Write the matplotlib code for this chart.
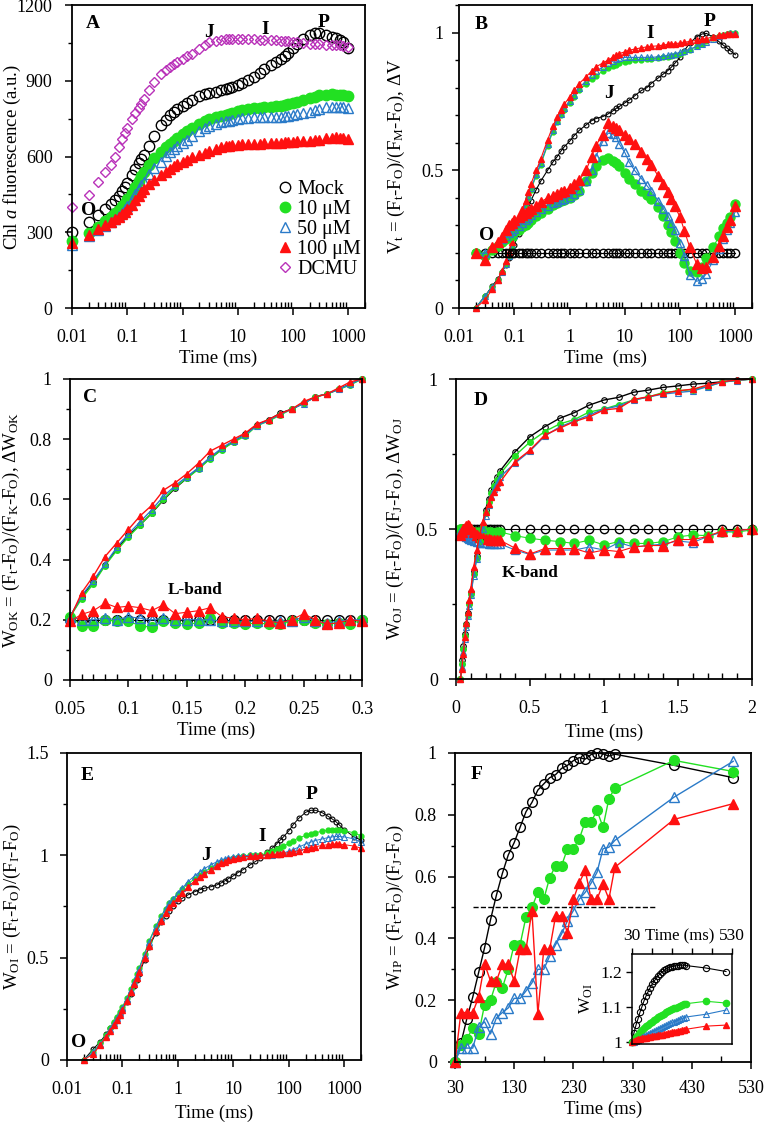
import matplotlib
matplotlib.use("Agg")
import matplotlib.pyplot as plt
from matplotlib.ticker import MultipleLocator, FormatStrFormatter, LogLocator, NullFormatter, FixedLocator

plt.rcParams['font.family'] = ['Liberation Serif', 'DejaVu Serif']
plt.rcParams['mathtext.fontset'] = 'custom'
plt.rcParams['mathtext.rm'] = 'Liberation Serif'
plt.rcParams['mathtext.it'] = 'Liberation Serif:italic'
plt.rcParams['mathtext.bf'] = 'Liberation Serif:bold'
plt.rcParams['axes.linewidth'] = 1.3

# Colors
black = 'black'
green = '#22e022'
blue = '#2a7ac8'
red = '#ff1010'
magenta = '#b932b9'

labels = ['Mock', '10 μM', '50 μM', '100 μM', 'DCMU']

# ---------------- data: OJIP time grid (ms) ----------------
time_log = [0.02, 0.03, 0.04, 0.05, 0.06, 0.07, 0.08, 0.09, 0.1, 0.12,
            0.14, 0.16, 0.18, 0.2, 0.25, 0.3, 0.4, 0.5, 0.6, 0.7,
            0.8, 1, 1.2, 1.5, 2, 2.5, 3, 4, 5, 6,
            7, 8, 10, 12, 15, 20, 25, 30, 40, 50,
            60, 70, 80, 100, 120, 150, 200, 250, 300, 400,
            500, 600, 700, 800, 1000]
time_a = [0.01] + time_log
time_e = time_log + [1500, 2000]

# A: raw Chl a fluorescence
mock_a = [300, 341, 368, 392, 412, 428, 445, 462, 478, 495,
          525, 552, 573, 590, 605, 640, 680, 723, 745, 763,
          776, 787, 800, 812, 825, 840, 848, 852, 856, 862,
          867, 872, 876, 883, 892, 903, 916, 932, 946, 962,
          975, 988, 1000, 1012, 1028, 1045, 1066, 1082, 1088, 1088,
          1081, 1075, 1068, 1061, 1052, 1030]
green_a = [265, 298, 321, 343, 360, 375, 390, 403, 416, 430,
           455, 480, 503, 522, 538, 568, 595, 618, 637, 651,
           663, 672, 688, 700, 715, 730, 740, 748, 755, 760,
           765, 770, 774, 782, 785, 788, 791, 794, 796, 798,
           800, 802, 805, 808, 813, 817, 823, 830, 837, 842,
           845, 846, 845, 843, 842, 840]
blue_a = [250, 285, 308, 325, 340, 353, 365, 378, 392, 405,
          428, 450, 470, 487, 500, 530, 555, 580, 602, 617,
          630, 640, 655, 667, 683, 700, 712, 722, 730, 735,
          739, 742, 745, 750, 752, 754, 755, 755, 756, 755,
          756, 757, 759, 761, 765, 768, 772, 778, 785, 790,
          795, 797, 797, 796, 795, 792]
red_a = [258, 290, 313, 330, 342, 352, 362, 372, 382, 393,
         410, 428, 445, 460, 472, 492, 508, 525, 540, 552,
         562, 570, 580, 588, 598, 607, 614, 620, 630, 637,
         640, 643, 645, 647, 648, 649, 650, 651, 652, 653,
         654, 655, 656, 657, 659, 660, 661, 663, 665, 667,
         672, 675, 676, 675, 674, 670]
dcmu_a = [400, 447, 498, 537, 567, 597, 637, 668, 695, 715,
          748, 772, 792, 810, 827, 862, 895, 928, 942, 955,
          966, 975, 988, 998, 1008, 1025, 1040, 1052, 1058, 1062,
          1064, 1065, 1066, 1066, 1066, 1065, 1064, 1063, 1062, 1061,
          1060, 1059, 1058, 1057, 1055, 1053, 1050, 1047, 1045, 1044,
          1043, 1042, 1041, 1040, 1038, 1035]

# B: relative variable fluorescence Vt and difference curves (offset 0.2)
mock_v = [0, 0.045, 0.08, 0.105, 0.13, 0.155, 0.18, 0.205, 0.23, 0.27,
          0.31, 0.34, 0.365, 0.39, 0.43, 0.46, 0.50, 0.53, 0.55, 0.57,
          0.585, 0.605, 0.625, 0.645, 0.665, 0.68, 0.688, 0.695, 0.705, 0.715,
          0.725, 0.732, 0.745, 0.755, 0.77, 0.79, 0.80, 0.815, 0.835, 0.85,
          0.862, 0.875, 0.888, 0.91, 0.935, 0.962, 0.985, 0.995, 0.997, 0.983,
          0.968, 0.955, 0.945, 0.935, 0.92]
green_v = [0, 0.045, 0.075, 0.10, 0.13, 0.16, 0.19, 0.22, 0.255, 0.30,
           0.34, 0.37, 0.40, 0.43, 0.48, 0.52, 0.59, 0.64, 0.675, 0.70,
           0.72, 0.745, 0.765, 0.79, 0.815, 0.83, 0.843, 0.86, 0.87, 0.878,
           0.884, 0.888, 0.893, 0.896, 0.899, 0.901, 0.903, 0.905, 0.908, 0.91,
           0.912, 0.915, 0.918, 0.922, 0.928, 0.937, 0.95, 0.96, 0.968, 0.98,
           0.988, 0.993, 0.996, 0.998, 1.0]
blue_v = [0, 0.045, 0.075, 0.10, 0.13, 0.16, 0.19, 0.225, 0.265, 0.305,
          0.345, 0.375, 0.405, 0.435, 0.485, 0.525, 0.595, 0.645, 0.68, 0.705,
          0.725, 0.75, 0.775, 0.80, 0.825, 0.845, 0.86, 0.875, 0.89, 0.897,
          0.903, 0.906, 0.91, 0.91, 0.91, 0.91, 0.91, 0.91, 0.912, 0.914,
          0.917, 0.92, 0.923, 0.928, 0.933, 0.94, 0.95, 0.958, 0.965, 0.978,
          0.988, 0.993, 0.996, 0.998, 1.0]
red_v = [0, 0.03, 0.07, 0.10, 0.135, 0.17, 0.205, 0.24, 0.275, 0.32,
         0.36, 0.39, 0.42, 0.45, 0.50, 0.54, 0.61, 0.66, 0.695, 0.72,
         0.74, 0.765, 0.79, 0.815, 0.84, 0.86, 0.875, 0.89, 0.90, 0.91,
         0.918, 0.924, 0.93, 0.936, 0.94, 0.945, 0.948, 0.95, 0.952, 0.955,
         0.957, 0.958, 0.96, 0.962, 0.965, 0.968, 0.972, 0.975, 0.978, 0.985,
         0.99, 0.993, 0.995, 0.995, 0.995]
mock_dv = [0.2, 0.2, 0.2, 0.2, 0.2, 0.2, 0.2, 0.2, 0.2, 0.2,
           0.2, 0.2, 0.2, 0.2, 0.2, 0.2, 0.2, 0.2, 0.2, 0.2,
           0.2, 0.2, 0.2, 0.2, 0.2, 0.2, 0.2, 0.2, 0.2, 0.2,
           0.2, 0.2, 0.2, 0.2, 0.2, 0.2, 0.2, 0.2, 0.2, 0.2,
           0.2, 0.2, 0.2, 0.2, 0.2, 0.2, 0.2, 0.2, 0.2, 0.2,
           0.2, 0.2, 0.2, 0.2, 0.2]
green_dv = [0.20, 0.19, 0.21, 0.225, 0.24, 0.25, 0.26, 0.268, 0.275, 0.285,
            0.294, 0.30, 0.31, 0.32, 0.335, 0.345, 0.36, 0.375, 0.382, 0.388,
            0.392, 0.398, 0.41, 0.425, 0.46, 0.49, 0.515, 0.537, 0.543, 0.535,
            0.525, 0.515, 0.49, 0.47, 0.45, 0.425, 0.41, 0.395, 0.365, 0.335,
            0.30, 0.275, 0.245, 0.20, 0.165, 0.135, 0.13, 0.15, 0.18, 0.22,
            0.26, 0.29, 0.31, 0.33, 0.378]
blue_dv = [0.20, 0.198, 0.22, 0.235, 0.25, 0.262, 0.272, 0.28, 0.287, 0.298,
           0.308, 0.318, 0.328, 0.336, 0.348, 0.358, 0.372, 0.38, 0.386, 0.392,
           0.396, 0.402, 0.415, 0.43, 0.46, 0.50, 0.55, 0.605, 0.635, 0.632,
           0.62, 0.595, 0.565, 0.53, 0.50, 0.47, 0.445, 0.425, 0.39, 0.36,
           0.335, 0.31, 0.285, 0.235, 0.19, 0.12, 0.097, 0.105, 0.125, 0.175,
           0.215, 0.25, 0.285, 0.31, 0.35]
red_dv = [0.20, 0.176, 0.22, 0.24, 0.258, 0.285, 0.30, 0.31, 0.318, 0.33,
          0.338, 0.346, 0.354, 0.36, 0.372, 0.385, 0.40, 0.408, 0.414, 0.42,
          0.425, 0.435, 0.45, 0.465, 0.50, 0.55, 0.59, 0.63, 0.67, 0.66,
          0.652, 0.645, 0.63, 0.615, 0.595, 0.565, 0.54, 0.52, 0.48, 0.45,
          0.42, 0.395, 0.37, 0.33, 0.28, 0.22, 0.16, 0.145, 0.15, 0.186,
          0.225, 0.26, 0.294, 0.32, 0.37]

# C: W_OK (0.05-0.3 ms) and L-band (offset 0.2)
time_c = [0.05, 0.06, 0.07, 0.08, 0.09, 0.10, 0.11, 0.12, 0.13, 0.14,
          0.15, 0.16, 0.17, 0.18, 0.19, 0.20, 0.21, 0.22, 0.23, 0.24,
          0.25, 0.26, 0.27, 0.28, 0.29, 0.30]
mock_wok = [0.21, 0.277, 0.327, 0.382, 0.435, 0.48, 0.515, 0.554, 0.598, 0.637,
            0.67, 0.703, 0.736, 0.766, 0.792, 0.817, 0.847, 0.864, 0.886, 0.90,
            0.919, 0.941, 0.95, 0.966, 0.983, 1.0]
green_wok = [0.21, 0.27, 0.32, 0.38, 0.43, 0.475, 0.515, 0.555, 0.60, 0.64,
             0.67, 0.70, 0.735, 0.765, 0.79, 0.81, 0.845, 0.86, 0.88, 0.90,
             0.92, 0.94, 0.95, 0.965, 0.98, 1.0]
blue_wok = [0.21, 0.28, 0.33, 0.385, 0.44, 0.485, 0.525, 0.565, 0.61, 0.645,
            0.675, 0.705, 0.74, 0.77, 0.795, 0.815, 0.845, 0.862, 0.883, 0.90,
            0.918, 0.94, 0.95, 0.965, 0.983, 1.0]
red_wok = [0.205, 0.29, 0.345, 0.41, 0.455, 0.50, 0.545, 0.58, 0.63, 0.655,
           0.685, 0.72, 0.76, 0.78, 0.80, 0.82, 0.85, 0.865, 0.885, 0.90,
           0.925, 0.94, 0.95, 0.97, 0.99, 1.0]
mock_lband = [0.2, 0.2, 0.2, 0.2, 0.2, 0.2, 0.2, 0.2, 0.2, 0.2,
              0.2, 0.2, 0.2, 0.2, 0.2, 0.2, 0.2, 0.2, 0.2, 0.2,
              0.2, 0.2, 0.2, 0.2, 0.2, 0.2]
green_lband = [0.21, 0.18, 0.18, 0.20, 0.195, 0.195, 0.18, 0.175, 0.195, 0.19,
               0.185, 0.19, 0.205, 0.19, 0.19, 0.185, 0.19, 0.185, 0.185, 0.195,
               0.20, 0.19, 0.185, 0.19, 0.185, 0.20]
blue_lband = [0.21, 0.20, 0.20, 0.205, 0.20, 0.21, 0.205, 0.20, 0.205, 0.20,
              0.20, 0.20, 0.20, 0.195, 0.195, 0.195, 0.195, 0.195, 0.195, 0.195,
              0.21, 0.195, 0.19, 0.195, 0.20, 0.20]
red_lband = [0.195, 0.218, 0.23, 0.255, 0.241, 0.245, 0.24, 0.23, 0.25, 0.22,
             0.225, 0.23, 0.24, 0.21, 0.205, 0.20, 0.205, 0.195, 0.19, 0.20,
             0.22, 0.20, 0.185, 0.19, 0.20, 0.195]

# D: W_OJ (0-2 ms) and K-band (offset 0.5)
time_d = [0.03, 0.04, 0.05, 0.06, 0.07, 0.08, 0.09, 0.1, 0.12, 0.14,
          0.16, 0.18, 0.2, 0.22, 0.24, 0.26, 0.28, 0.3,
          0.4, 0.5, 0.6, 0.7, 0.8, 0.9, 1.0, 1.1, 1.2, 1.3,
          1.4, 1.5, 1.6, 1.7, 1.8, 1.9, 2.0]
mock_woj = [0.0, 0.063, 0.11, 0.15, 0.185, 0.22, 0.255, 0.29, 0.36, 0.41,
            0.465, 0.515, 0.565, 0.60, 0.63, 0.655, 0.675, 0.695,
            0.758, 0.808, 0.841, 0.869, 0.888, 0.913, 0.93, 0.939, 0.956, 0.963,
            0.972, 0.977, 0.983, 0.986, 0.991, 0.997, 1.0]
green_woj = [0.0, 0.05, 0.10, 0.145, 0.18, 0.215, 0.25, 0.285, 0.35, 0.405,
             0.46, 0.51, 0.555, 0.59, 0.62, 0.645, 0.665, 0.685,
             0.745, 0.79, 0.825, 0.85, 0.865, 0.89, 0.90, 0.915, 0.93, 0.94,
             0.955, 0.96, 0.965, 0.975, 0.99, 0.995, 1.0]
blue_woj = [0.0, 0.04, 0.09, 0.135, 0.175, 0.21, 0.245, 0.28, 0.345, 0.40,
            0.455, 0.50, 0.545, 0.58, 0.61, 0.635, 0.655, 0.675,
            0.72, 0.76, 0.81, 0.84, 0.86, 0.88, 0.90, 0.91, 0.93, 0.94,
            0.95, 0.955, 0.96, 0.975, 0.99, 0.995, 1.0]
red_woj = [0.0, 0.035, 0.085, 0.14, 0.186, 0.224, 0.263, 0.30, 0.374, 0.43,
           0.48, 0.524, 0.558, 0.585, 0.607, 0.624, 0.64, 0.658,
           0.724, 0.763, 0.813, 0.836, 0.858, 0.874, 0.897, 0.902, 0.932, 0.941,
           0.952, 0.961, 0.966, 0.98, 0.991, 0.997, 1.0]
mock_kband = [0.5, 0.5, 0.5, 0.5, 0.5, 0.5, 0.5, 0.5, 0.5, 0.5,
              0.5, 0.5, 0.5, 0.5, 0.5, 0.5, 0.5, 0.5,
              0.5, 0.5, 0.5, 0.5, 0.5, 0.5, 0.5, 0.5, 0.5, 0.5,
              0.5, 0.5, 0.5, 0.5, 0.5, 0.5, 0.5]
green_kband = [0.50, 0.50, 0.495, 0.495, 0.50, 0.50, 0.50, 0.495, 0.49, 0.49,
               0.49, 0.488, 0.49, 0.49, 0.49, 0.488, 0.49, 0.49,
               0.478, 0.469, 0.463, 0.458, 0.452, 0.463, 0.447, 0.458, 0.452, 0.452,
               0.458, 0.474, 0.48, 0.478, 0.49, 0.49, 0.497]
blue_kband = [0.49, 0.485, 0.48, 0.478, 0.475, 0.47, 0.468, 0.465, 0.46, 0.457,
              0.455, 0.453, 0.452, 0.45, 0.45, 0.45, 0.45, 0.45,
              0.43, 0.415, 0.43, 0.43, 0.43, 0.44, 0.43, 0.455, 0.44, 0.445,
              0.45, 0.46, 0.455, 0.475, 0.49, 0.495, 0.50]
red_kband = [0.48, 0.49, 0.50, 0.505, 0.51, 0.512, 0.51, 0.50, 0.49, 0.48,
             0.475, 0.47, 0.468, 0.466, 0.465, 0.464, 0.463, 0.462,
             0.436, 0.417, 0.435, 0.435, 0.435, 0.42, 0.43, 0.425, 0.44, 0.445,
             0.445, 0.465, 0.465, 0.475, 0.495, 0.495, 0.50]

# E: W_OI
mock_e = [0, 0.055, 0.09, 0.125, 0.155, 0.18, 0.205, 0.225, 0.245, 0.285,
          0.32, 0.36, 0.39, 0.42, 0.49, 0.55, 0.62, 0.675, 0.705, 0.73,
          0.75, 0.775, 0.79, 0.806, 0.822, 0.832, 0.839, 0.847, 0.855, 0.865,
          0.875, 0.885, 0.90, 0.915, 0.93, 0.953, 0.97, 0.985, 1.015, 1.035,
          1.055, 1.075, 1.09, 1.12, 1.15, 1.18, 1.21, 1.22, 1.22, 1.208,
          1.192, 1.178, 1.165, 1.15, 1.125, 1.09, 1.075]
green_e = [0, 0.04, 0.085, 0.12, 0.155, 0.185, 0.21, 0.235, 0.26, 0.305,
           0.345, 0.385, 0.42, 0.45, 0.52, 0.58, 0.655, 0.705, 0.74, 0.765,
           0.785, 0.81, 0.835, 0.86, 0.885, 0.905, 0.92, 0.94, 0.955, 0.965,
           0.972, 0.978, 0.985, 0.99, 0.995, 1.0, 1.0, 1.0, 1.01, 1.02,
           1.03, 1.037, 1.045, 1.06, 1.072, 1.085, 1.097, 1.105, 1.11, 1.118,
           1.122, 1.124, 1.125, 1.124, 1.12, 1.11, 1.095]
blue_e = [0, 0.04, 0.08, 0.115, 0.15, 0.18, 0.205, 0.23, 0.255, 0.30,
          0.34, 0.38, 0.415, 0.445, 0.515, 0.575, 0.65, 0.70, 0.74, 0.765,
          0.785, 0.815, 0.84, 0.87, 0.90, 0.92, 0.935, 0.955, 0.968, 0.977,
          0.983, 0.988, 0.993, 0.996, 0.998, 1.0, 1.0, 1.0, 1.0, 1.002,
          1.005, 1.008, 1.012, 1.02, 1.028, 1.04, 1.055, 1.065, 1.072, 1.08,
          1.086, 1.09, 1.092, 1.092, 1.09, 1.08, 1.065]
red_e = [0, 0.03, 0.075, 0.11, 0.14, 0.17, 0.195, 0.22, 0.245, 0.29,
         0.33, 0.37, 0.40, 0.43, 0.50, 0.555, 0.63, 0.68, 0.72, 0.745,
         0.765, 0.79, 0.815, 0.845, 0.875, 0.895, 0.91, 0.93, 0.95, 0.96,
         0.968, 0.975, 0.982, 0.987, 0.992, 0.996, 0.998, 1.0, 1.002, 1.004,
         1.006, 1.008, 1.01, 1.013, 1.017, 1.022, 1.03, 1.037, 1.042, 1.048,
         1.052, 1.054, 1.055, 1.055, 1.052, 1.045, 1.035]

# F: W_IP (30-530 ms) and inset W_OI
time_f = [30, 40, 50, 60, 70, 80, 90, 100, 110, 120,
          130, 140, 150, 160, 170, 180, 190, 200, 210, 220,
          230, 240, 250, 260, 270, 280, 290, 300, 400, 500]
mock_f = [0.0, 0.06, 0.14, 0.21, 0.29, 0.37, 0.46, 0.54, 0.61, 0.67,
          0.71, 0.76, 0.81, 0.84, 0.88, 0.90, 0.92, 0.93, 0.95, 0.96,
          0.975, 0.985, 0.98, 0.995, 1.0, 0.997, 0.99, 0.996, 0.96, 0.92]
green_f = [0.0, 0.056, 0.075, 0.11, 0.09, 0.186, 0.20, 0.26, 0.24, 0.30,
           0.38, 0.38, 0.47, 0.50, 0.55, 0.527, 0.597, 0.635, 0.635, 0.69,
           0.69, 0.722, 0.778, 0.778, 0.814, 0.76, 0.852, 0.886, 0.976, 0.94]
blue_f = [0.0, 0.045, 0.045, 0.045, 0.113, 0.13, 0.091, 0.143, 0.16, 0.175,
          0.206, 0.206, 0.23, 0.256, 0.30, 0.30, 0.343, 0.38, 0.414, 0.457,
          0.49, 0.527, 0.549, 0.579, 0.614, 0.69, 0.695, 0.717, 0.857, 0.973]
red_f = [0.0, 0.16, 0.16, 0.16, 0.21, 0.318, 0.262, 0.262, 0.316, 0.316,
         0.262, 0.365, 0.365, 0.49, 0.156, 0.365, 0.365, 0.473, 0.473, 0.419,
         0.527, 0.58, 0.62, 0.527, 0.527, 0.576, 0.527, 0.63, 0.785, 0.836]
mock_in = [1.0, 1.025, 1.047, 1.065, 1.084, 1.10, 1.116, 1.13, 1.142, 1.153,
           1.163, 1.172, 1.18, 1.187, 1.194, 1.198, 1.203, 1.207, 1.21, 1.212,
           1.214, 1.215, 1.216, 1.217, 1.218, 1.218, 1.218, 1.217, 1.21, 1.20]
green_in = [1.0, 1.005, 1.012, 1.02, 1.027, 1.033, 1.038, 1.043, 1.048, 1.053,
            1.057, 1.061, 1.065, 1.069, 1.073, 1.077, 1.08, 1.083, 1.086, 1.089,
            1.092, 1.095, 1.097, 1.1, 1.102, 1.104, 1.106, 1.108, 1.115, 1.11]
blue_in = [1.0, 1.0, 1.002, 1.005, 1.008, 1.012, 1.015, 1.019, 1.022, 1.025,
           1.028, 1.031, 1.034, 1.037, 1.04, 1.042, 1.045, 1.047, 1.05, 1.052,
           1.055, 1.057, 1.06, 1.062, 1.064, 1.066, 1.068, 1.07, 1.078, 1.09]
red_in = [1.0, 1.002, 1.004, 1.006, 1.007, 1.009, 1.01, 1.011, 1.013, 1.014,
          1.015, 1.016, 1.017, 1.018, 1.019, 1.02, 1.021, 1.022, 1.023, 1.024,
          1.026, 1.027, 1.028, 1.03, 1.031, 1.032, 1.034, 1.035, 1.044, 1.047]
half_level = 0.5
half_from, half_to = 60, 370

log_ticks = [0.01, 0.1, 1, 10, 100, 1000]
log_labels = ['0.01', '0.1', '1', '10', '100', '1000']
f_ticks = [30, 130, 230, 330, 430, 530]
f_minor = [80, 180, 280, 380, 480]


def style(ax, major_y, minor_y, ypad=8):
    ax.tick_params(which='major', direction='out', length=5, width=1.1,
                   labelsize=13, top=False, right=False)
    ax.tick_params(axis='x', which='major', pad=10)
    ax.tick_params(axis='y', which='major', pad=ypad)
    ax.tick_params(which='minor', direction='out', length=3, width=1,
                   top=False, right=False)
    ax.tick_params(axis='x', which='minor', direction='in', length=4)
    ax.yaxis.set_major_locator(MultipleLocator(major_y))
    ax.yaxis.set_minor_locator(MultipleLocator(minor_y))
    ax.yaxis.set_major_formatter(FormatStrFormatter('%g'))


def log_x(ax, right):
    ax.set_xscale('log')
    ax.set_xlim(0.01, right)
    ax.set_xticks(log_ticks)
    ax.set_xticklabels(log_labels)
    ax.xaxis.set_minor_locator(LogLocator(base=10, subs=range(2, 10), numticks=20))
    ax.xaxis.set_minor_formatter(NullFormatter())


def labels_xy(ax, xl, yl, xly, ylx):
    ax.set_xlabel(xl, fontsize=13.5, va='center')
    ax.set_ylabel(yl, fontsize=13.5, va='center')
    ax.xaxis.set_label_coords(0.5, xly)
    ax.yaxis.set_label_coords(ylx, 0.5)


bold = dict(fontsize=14, fontweight='bold', ha='center', va='center')
open_k = dict(mfc='none', mec=black, color=black)
open_b = dict(mfc='none', mec=blue, color=blue)

fig = plt.figure(figsize=(7.67, 11.25), dpi=100)

# ---------------- A ----------------
axA = fig.add_axes([0.0939, 0.7262, 0.382, 0.2693])
axA.plot(time_a, mock_a, 'o', ms=7.5, mew=1, label=labels[0], clip_on=False, **open_k)
axA.plot(time_a, green_a, 'o', ms=7.5, color=green, label=labels[1], clip_on=False)
axA.plot(time_a, blue_a, '^', ms=7.5, mew=1, label=labels[2], clip_on=False, **open_b)
axA.plot(time_a, red_a, '^', ms=7.5, color=red, label=labels[3], clip_on=False)
axA.plot(time_a, dcmu_a, 'D', ms=5.5, mew=1, mfc='none', mec=magenta,
         color=magenta, label=labels[4], clip_on=False)
log_x(axA, 2000)
axA.set_ylim(0, 1200)
style(axA, 300, 150, ypad=9)
labels_xy(axA, 'Time (ms)', r'Chl $\mathit{a}$ fluorescence (a.u.)', -0.165, -0.205)
axA.legend(loc='upper left', bbox_to_anchor=(0.665, 0.45), frameon=False,
           fontsize=14.5, handletextpad=0.1, labelspacing=0.05, borderaxespad=0,
           handlelength=1.0)
axA.text(0.024, 1125, 'A', **bold)
axA.text(3.0, 1093, 'J', **bold)
axA.text(31, 1105, 'I', **bold)
axA.text(352, 1129, 'P', **bold)
axA.text(0.0203, 388, 'O', **bold)

# ---------------- B ----------------
axB = fig.add_axes([0.5984, 0.7262, 0.382, 0.2693])
axB.plot(time_log, mock_v, 'o-', ms=3.5, mew=0.8, lw=0.8, clip_on=False, **open_k)
axB.plot(time_log, green_v, 'o-', ms=3.5, lw=0.8, color=green, clip_on=False)
axB.plot(time_log, blue_v, '^-', ms=4.5, mew=0.8, lw=0.8, clip_on=False, **open_b)
axB.plot(time_log, red_v, '^-', ms=5, lw=0.8, color=red, clip_on=False)
axB.plot(time_log, mock_dv, 'o-', ms=6, mew=1, lw=0.8, clip_on=False, **open_k)
axB.plot(time_log, green_dv, 'o-', ms=6.5, lw=0.8, color=green, clip_on=False)
axB.plot(time_log, blue_dv, '^-', ms=6, mew=1, lw=0.8, clip_on=False, **open_b)
axB.plot(time_log, red_dv, '^-', ms=6.5, lw=0.8, color=red, clip_on=False)
log_x(axB, 2000)
axB.set_ylim(0, 1.1)
style(axB, 0.5, 0.1, ypad=6)
labels_xy(axB, 'Time  (ms)',
          r'V$_{\rm t}$ = (F$_{\rm t}$-F$_{\rm O}$)/(F$_{\rm M}$-F$_{\rm O}$), ΔV',
          -0.165, -0.212)
axB.text(0.025, 1.03, 'B', **bold)
axB.text(29, 0.998, 'I', **bold)
axB.text(339, 1.04, 'P', **bold)
axB.text(5.1, 0.78, 'J', **bold)
axB.text(0.031, 0.265, 'O', **bold)

# ---------------- C ----------------
axC = fig.add_axes([0.0913, 0.3956, 0.3807, 0.2676])
axC.plot(time_c, mock_lband, 'o-', ms=7, mew=1, lw=0.8, clip_on=False, **open_k)
axC.plot(time_c, green_lband, 'o-', ms=7, lw=0.8, color=green, clip_on=False)
axC.plot(time_c, blue_lband, '^-', ms=6.5, mew=1, lw=0.8, clip_on=False, **open_b)
axC.plot(time_c, red_lband, '^-', ms=7, lw=0.8, color=red, clip_on=False)
axC.plot(time_c, mock_wok, 'o-', ms=4, mew=0.8, lw=1, clip_on=False, **open_k)
axC.plot(time_c, green_wok, 'o-', ms=4, lw=1, color=green, clip_on=False)
axC.plot(time_c, blue_wok, '^-', ms=4, mew=0.8, lw=1, clip_on=False, **open_b)
axC.plot(time_c, red_wok, '^-', ms=5, lw=1, color=red, clip_on=False)
axC.set_xlim(0.05, 0.3)
axC.set_ylim(0, 1)
axC.xaxis.set_major_locator(MultipleLocator(0.05))
axC.xaxis.set_minor_locator(MultipleLocator(0.01))
axC.xaxis.set_major_formatter(FormatStrFormatter('%g'))
style(axC, 0.2, 0.1)
labels_xy(axC, 'Time (ms)',
          r'W$_{\rm OK}$ = (F$_{\rm t}$-F$_{\rm O}$)/(F$_{\rm K}$-F$_{\rm O}$), ΔW$_{\rm OK}$',
          -0.166, -0.199)
axC.text(0.067, 0.937, 'C', **bold)
axC.text(0.157, 0.30, 'L-band', fontsize=12.5, fontweight='bold', ha='center', va='center')

# ---------------- D ----------------
axD = fig.add_axes([0.5945, 0.3964, 0.3859, 0.2667])
axD.plot(time_d, mock_kband, 'o-', ms=6, mew=1, lw=0.8, clip_on=False, **open_k)
axD.plot(time_d, green_kband, 'o-', ms=6.5, lw=0.8, color=green, clip_on=False)
axD.plot(time_d, blue_kband, '^-', ms=6, mew=1, lw=0.8, clip_on=False, **open_b)
axD.plot(time_d, red_kband, '^-', ms=6.5, lw=0.8, color=red, clip_on=False)
axD.plot(time_d, mock_woj, 'o-', ms=4, mew=0.8, lw=1, clip_on=False, **open_k)
axD.plot(time_d, green_woj, 'o-', ms=4, lw=1, color=green, clip_on=False)
axD.plot(time_d, blue_woj, '^-', ms=4, mew=0.8, lw=1, clip_on=False, **open_b)
axD.plot(time_d, red_woj, '^-', ms=5, lw=1, color=red, clip_on=False)
axD.set_xlim(0, 2)
axD.set_ylim(0, 1)
axD.xaxis.set_major_locator(MultipleLocator(0.5))
axD.xaxis.set_minor_locator(MultipleLocator(0.1))
axD.xaxis.set_major_formatter(FormatStrFormatter('%g'))
style(axD, 0.5, 0.25)
labels_xy(axD, 'Time (ms)',
          r'W$_{\rm OJ}$ = (F$_{\rm t}$-F$_{\rm O}$)/(F$_{\rm J}$-F$_{\rm O}$), ΔW$_{\rm OJ}$',
          -0.177, -0.203)
axD.text(0.169, 0.927, 'D', **bold)
axD.text(0.5, 0.353, 'K-band', fontsize=12.5, fontweight='bold', ha='center', va='center')

# ---------------- E ----------------
axE = fig.add_axes([0.0874, 0.0578, 0.3833, 0.2729])
axE.plot(time_e, mock_e, 'o-', ms=3.5, mew=0.8, lw=0.7, clip_on=False, **open_k)
axE.plot(time_e, green_e, 'o-', ms=3.5, lw=0.7, color=green, clip_on=False)
axE.plot(time_e, blue_e, '^-', ms=4, mew=0.8, lw=0.7, clip_on=False, **open_b)
axE.plot(time_e, red_e, '^-', ms=4.5, lw=0.7, color=red, clip_on=False)
log_x(axE, 2000)
axE.set_ylim(0, 1.5)
style(axE, 0.5, 0.25)
labels_xy(axE, 'Time (ms)',
          r'W$_{\rm OI}$ = (F$_{\rm t}$-F$_{\rm O}$)/(F$_{\rm I}$-F$_{\rm O}$)',
          -0.173, -0.187)
axE.text(0.023, 1.39, 'E', **bold)
axE.text(0.0164, 0.083, 'O', **bold)
axE.text(3.2, 1.0, 'J', **bold)
axE.text(32.6, 1.09, 'I', **bold)
axE.text(259, 1.295, 'P', **bold)

# ---------------- F ----------------
axF = fig.add_axes([0.5932, 0.056, 0.3859, 0.2747])
axF.plot([half_from, half_to], [half_level, half_level], '--', color=black, lw=1)
axF.plot(time_f, mock_f, 'o-', ms=7, mew=1, lw=1, clip_on=False, **open_k)
axF.plot(time_f, green_f, 'o-', ms=7, lw=1, color=green, clip_on=False)
axF.plot(time_f, blue_f, '^-', ms=7, mew=1, lw=1, clip_on=False, **open_b)
axF.plot(time_f, red_f, '^-', ms=7, lw=1, color=red, clip_on=False)
axF.set_xlim(30, 530)
axF.set_ylim(0, 1)
axF.xaxis.set_major_locator(FixedLocator(f_ticks))
axF.xaxis.set_minor_locator(FixedLocator(f_minor))
axF.xaxis.set_major_formatter(FormatStrFormatter('%g'))
style(axF, 0.2, 0.1)
axF.tick_params(axis='x', which='major', pad=8)
labels_xy(axF, 'Time (ms)',
          r'W$_{\rm IP}$ = (F$_{\rm t}$-F$_{\rm O}$)/(F$_{\rm J}$-F$_{\rm O}$)',
          -0.152, -0.2)
axF.text(67, 0.93, 'F', **bold)

# inset
axI = fig.add_axes([0.824, 0.072, 0.1304, 0.08])
axI.plot(time_f, mock_in, 'o-', ms=4.5, mew=0.8, lw=0.8, clip_on=False, **open_k)
axI.plot(time_f, green_in, 'o-', ms=4.5, lw=0.8, color=green, clip_on=False)
axI.plot(time_f, blue_in, '^-', ms=4.5, mew=0.8, lw=0.8, clip_on=False, **open_b)
axI.plot(time_f, red_in, '^-', ms=4.5, lw=0.8, color=red, clip_on=False)
axI.set_xlim(30, 530)
axI.set_ylim(0.993, 1.25)
axI.xaxis.tick_top()
axI.set_xticks(f_ticks)
axI.set_xticklabels(['30', '', '', '', '', '530'])
axI.set_yticks([1, 1.1, 1.2])
axI.set_yticklabels(['1', '1.1', '1.2'])
axI.tick_params(which='major', direction='out', length=4, width=1, labelsize=12.5, pad=3)
axI.text(0.475, 1.2, 'Time (ms)', transform=axI.transAxes, fontsize=12,
         ha='center', va='center')
axI.set_ylabel(r'W$_{\rm OI}$', fontsize=12.5, va='center')
axI.yaxis.set_label_coords(-0.46, 0.5)
for s in axI.spines.values():
    s.set_linewidth(1.1)

fig.savefig('out.png', dpi=100)
